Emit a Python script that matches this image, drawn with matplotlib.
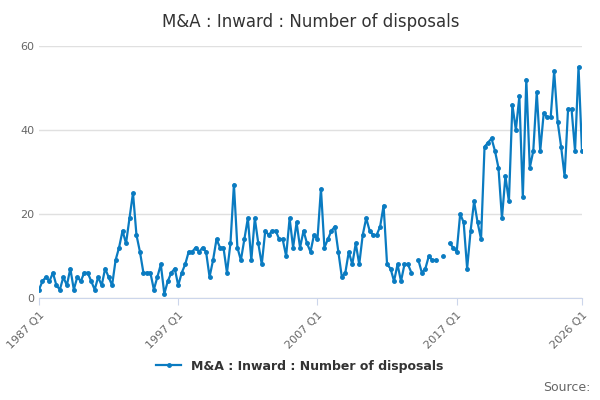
import matplotlib.pyplot as plt
import numpy as np

nan = np.nan
values = [2, 4, 5, 4, 6, 3, 2, 5, 3, 7, 2, 5, 4, 6, 6, 4, 2, 5, 3, 7,
          5, 3, 9, 12, 16, 13, 19, 25, 15, 11, 6, 6, 6, 2, 5, 8, 1, 4, 6, 7,
          3, 6, 8, 11, 11, 12, 11, 12, 11, 5, 9, 14, 12, 12, 6, 13, 27, 12, 9, 14,
          19, 9, 19, 13, 8, 16, 15, 16, 16, 14, 14, 10, 19, 12, 18, 12, 16, 13, 11, 15,
          14, 26, 12, 14, 16, 17, 11, 5, 6, 11, 8, 13, 8, 15, 19, 16, 15, 15, 17, 22,
          8, 7, 4, 8, 4, 8, 8, 6, nan, 9, 6, 7, 10, 9, 9, nan, 10, nan, 13, 12,
          11, 20, 18, 7, 16, 23, 18, 14, 36, 37, 38, 35, 31, 19, 29, 23, 46, 40, 48, 24,
          52, 31, 35, 49, 35, 44, 43, 43, 54, 42, 36, 29, 45, 45, 35, 55, 35]
tick_pos = [0, 40, 80, 120, 156]
tick_labels = ['1987 Q1', '1997 Q1', '2007 Q1', '2017 Q1', '2026 Q1']

x = np.arange(len(values))
fig, ax = plt.subplots(figsize=(6, 4), dpi=100)
fig.subplots_adjust(left=0.065, right=0.97, top=0.885, bottom=0.255)
ax.plot(x, values, color='#0a7bc1', lw=1.6, marker='o', ms=2.5, label='M&A : Inward : Number of disposals')
ax.set_xlim(0, 156)
ax.set_ylim(0, 60)
ax.set_yticks([0, 20, 40, 60])
ax.yaxis.grid(True, color='#e0e0e0', lw=1)
ax.set_axisbelow(True)
for s in ['top', 'right', 'left']:
    ax.spines[s].set_visible(False)
ax.spines['bottom'].set_color('#ccd6eb')
ax.tick_params(axis='y', length=0, labelsize=8, colors='#666666')
ax.tick_params(axis='x', color='#ccd6eb', labelsize=8, labelcolor='#666666', length=5)
ax.set_xticks(tick_pos)
ax.set_xticklabels(tick_labels, rotation=45, ha='right', rotation_mode='anchor')
ax.set_title('M&A : Inward : Number of disposals', fontsize=12, color='#333333', pad=14)
fig.legend(loc='lower center', bbox_to_anchor=(0.5, 0.04), frameon=False,
           prop={'size': 9, 'weight': 'bold'}, labelcolor='#333333')
fig.text(0.985, 0.015, 'Source:', ha='right', va='bottom', fontsize=9, color='#666666')
plt.savefig('out.png')
